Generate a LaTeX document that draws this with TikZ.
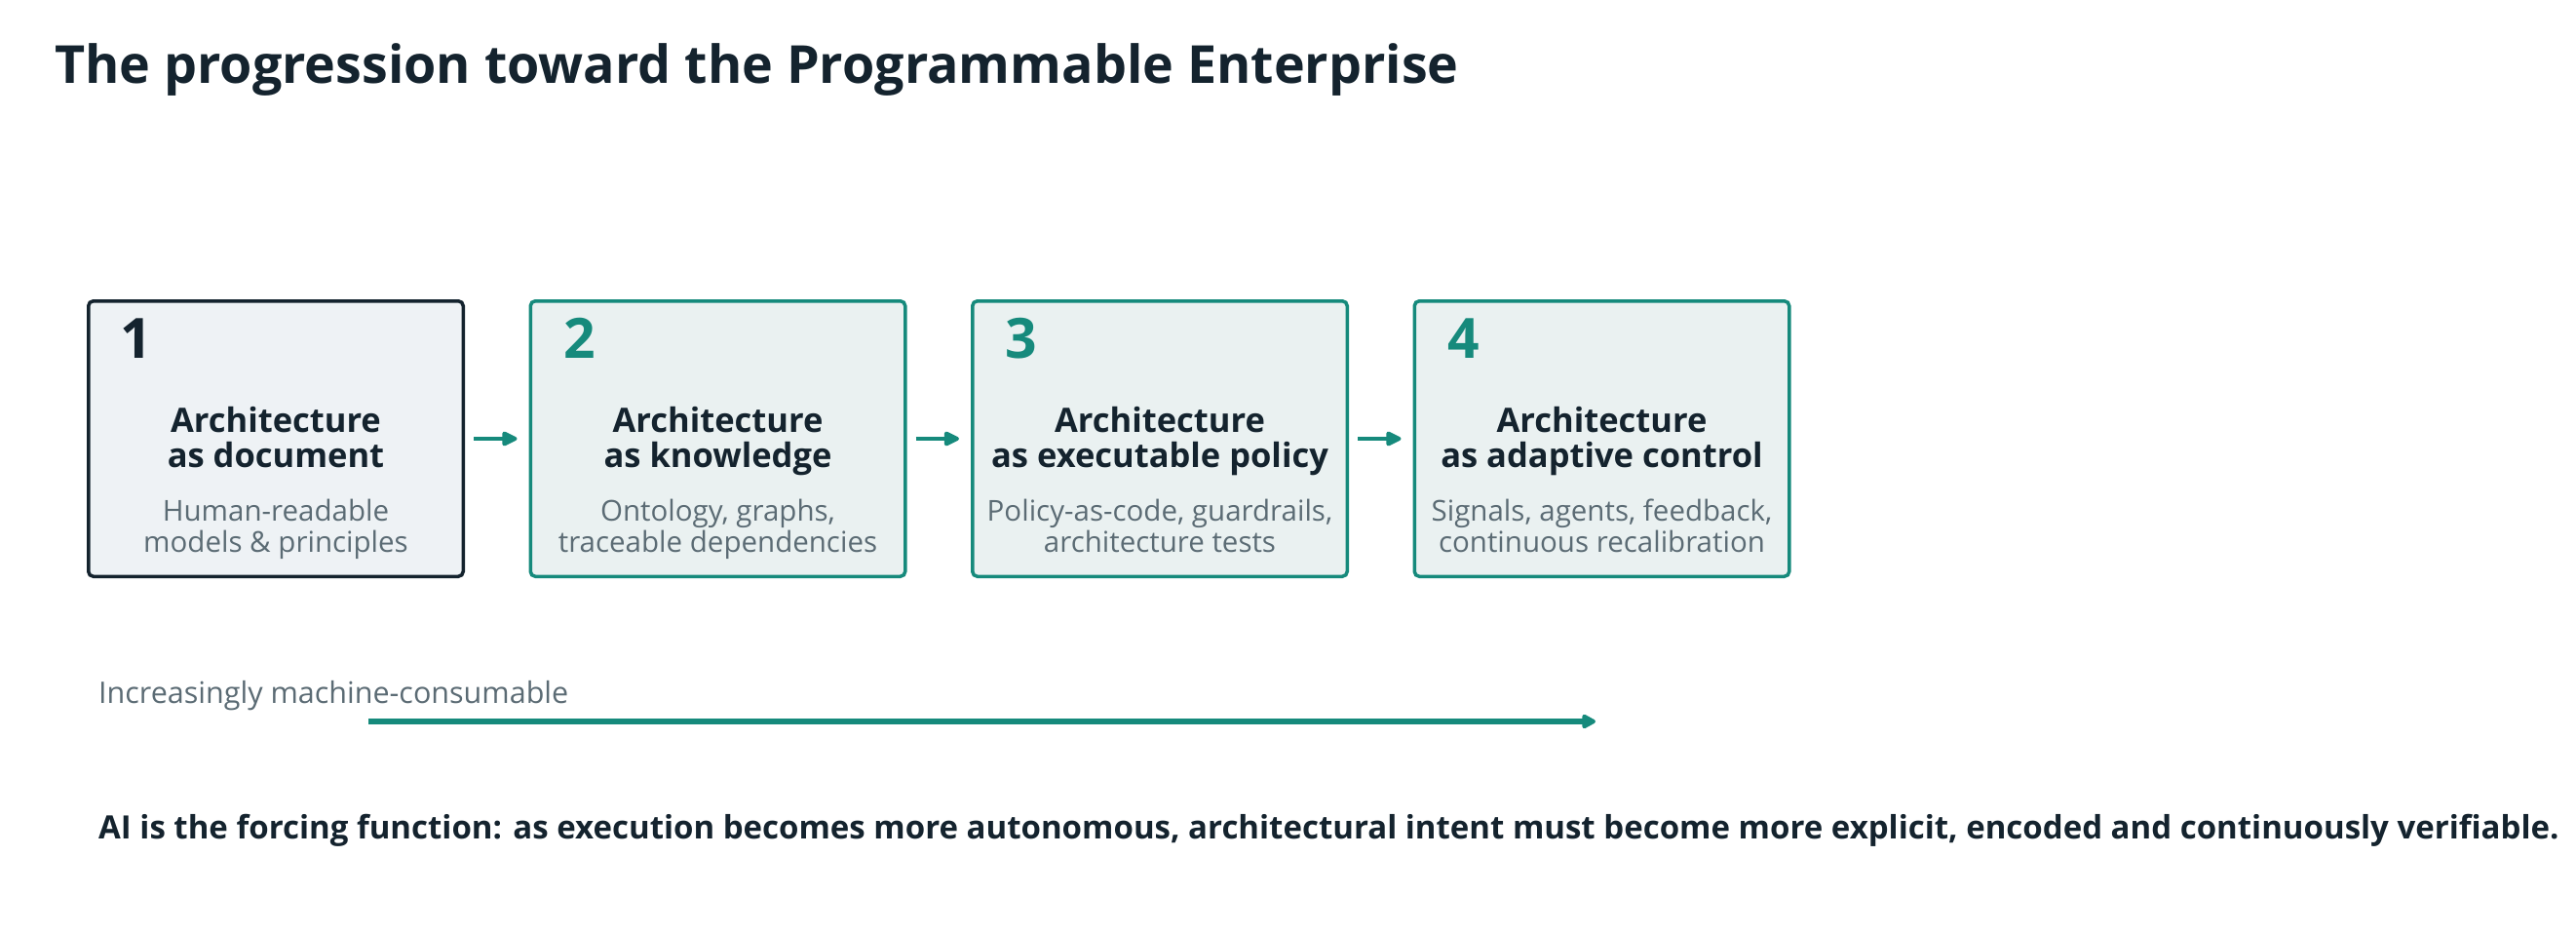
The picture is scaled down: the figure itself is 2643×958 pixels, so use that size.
\documentclass[tikz,border=0pt]{standalone}
\usepackage{fontspec}
\setmainfont{Open Sans}
\usetikzlibrary{arrows.meta}
\definecolor{ink}{HTML}{14232E}
\definecolor{teal}{HTML}{168A7C}
\definecolor{fillA}{HTML}{EEF2F5}
\definecolor{fillB}{HTML}{EAF1F1}
\definecolor{muted}{HTML}{5B6B74}
\tikzset{
  stagebox/.style={draw=teal, fill=fillB, line width=3.5pt, rounded corners=5pt,
    minimum width=384.5pt, minimum height=282.5pt, inner sep=0pt},
  firstbox/.style={stagebox, draw=ink, fill=fillA},
  stagenum/.style={anchor=base west, inner sep=0pt, font=\fontsize{57}{60}\selectfont\bfseries, text=teal},
  stagetitle/.style={anchor=base, inner sep=0pt, align=center, font=\fontsize{34.5}{36}\selectfont\bfseries, text=ink},
  stagesub/.style={anchor=base, inner sep=0pt, align=center, font=\fontsize{29.5}{32}\selectfont, text=muted},
  steparrow/.style={draw=teal, line width=4pt, -{Triangle[length=18pt,width=16pt,round]}},
  longarrow/.style={draw=teal, line width=6.5pt, -{Triangle[length=16pt,width=16pt,round]}},
}
\begin{document}
\begin{tikzpicture}[x=1pt,y=-1pt]
\useasboundingbox[fill=white] (0,0) rectangle (2643,958);
\node[anchor=base west, inner sep=0pt, font=\fontsize{53.8}{60}\selectfont\bfseries, text=ink] (title) at (56,85) {The progression toward the Programmable Enterprise};

\node[firstbox] (b1) at (283,450) {};
\node[stagebox] (b2) at (736.5,450) {};
\node[stagebox] (b3) at (1190,450) {};
\node[stagebox] (b4) at (1643.5,450) {};

\node[stagenum, text=ink] (n1) at (123,367) {1};
\node[stagenum] (n2) at (578,367) {2};
\node[stagenum] (n3) at (1031,367) {3};
\node[stagenum] (n4) at (1485,367) {4};

\node[stagetitle] (t1) at (283,479) {Architecture\\as document};
\node[stagetitle] (t2) at (736.5,479) {Architecture\\as knowledge};
\node[stagetitle] (t3) at (1190,479) {Architecture\\as executable policy};
\node[stagetitle] (t4) at (1643.5,479) {Architecture\\as adaptive control};

\node[stagesub] (s1) at (283,566) {Human-readable\\models \& principles};
\node[stagesub] (s2) at (736.5,566) {Ontology, graphs,\\traceable dependencies};
\node[stagesub] (s3) at (1190,566) {Policy-as-code, guardrails,\\architecture tests};
\node[stagesub] (s4) at (1643.5,566) {Signals, agents, feedback,\\continuous recalibration};

\draw[steparrow] ([xshift=9pt]b1.east) -- ([xshift=-12pt]b2.west);
\draw[steparrow] ([xshift=9pt]b2.east) -- ([xshift=-12pt]b3.west);
\draw[steparrow] ([xshift=9pt]b3.east) -- ([xshift=-12pt]b4.west);

\node[anchor=base west, inner sep=0pt, font=\fontsize{30.5}{32}\selectfont, text=muted] (scale) at (101,721) {Increasingly machine-consumable};
\coordinate (ms) at (378,740);
\coordinate (me) at (1637,740);
\draw[longarrow] (ms) -- (me);

\node[anchor=base west, inner sep=0pt, font=\fontsize{33}{36}\selectfont\bfseries, text=ink] (claim) at (101,860) {AI is the forcing function: as execution becomes more autonomous, architectural intent must become more explicit, encoded and continuously verifiable.};
\end{tikzpicture}
\end{document}
